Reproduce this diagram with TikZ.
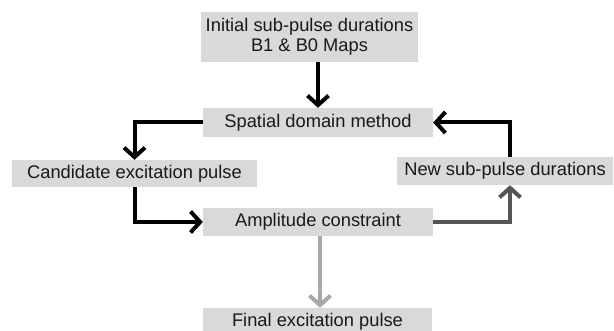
\documentclass[tikz,border=0pt]{standalone}
\usepackage{fontspec}
\setmainfont{Liberation Sans}
\usetikzlibrary{arrows.meta}
\definecolor{boxgray}{RGB}{217,217,217}
\definecolor{darkarrow}{RGB}{85,85,85}
\definecolor{lightarrow}{RGB}{168,168,168}
\definecolor{textdark}{RGB}{25,25,25}
\tikzset{
  stepbox/.style={fill=boxgray, draw=none, inner sep=0pt, align=center,
    text=textdark, font=\fontsize{18.3}{20.5}\selectfont},
  flow/.style={line width=4pt, -{Straight Barb[length=9.5pt,width=21pt,line width=4pt]}},
}
\begin{document}
\begin{tikzpicture}[x=1pt,y=-1pt]
  \clip (0,0) rectangle (614,331);
  \fill[white] (0,0) rectangle (614,331);

  \node[stepbox, minimum width=217pt, minimum height=50pt] (init) at (309.5,37)
    {Initial sub-pulse durations\\B1 \& B0 Maps};
  \node[stepbox, minimum width=230pt, minimum height=29pt] (spatial) at (318,122.5)
    {Spatial domain method};
  \node[stepbox, minimum width=245pt, minimum height=27pt] (cand) at (134.5,173.5)
    {Candidate excitation pulse};
  \node[stepbox, minimum width=230pt, minimum height=28pt] (amp) at (318,222)
    {Amplitude constraint};
  \node[stepbox, minimum width=216pt, minimum height=28pt] (new) at (505,171)
    {New sub-pulse durations};
  \node[stepbox, minimum width=229pt, minimum height=28pt] (final) at (317.5,322)
    {Final excitation pulse};

  \coordinate (newin) at ([xshift=5pt]new.south);
  \coordinate (newout) at ([xshift=5pt]new.north);

  \draw[flow] (init.south -| spatial.north) -- (spatial.north);
  \draw[flow] (spatial.west) -| (cand.north);
  \draw[flow] (cand.south) |- (amp.west);
  \draw[flow, darkarrow] (amp.east) -| (newin);
  \draw[flow] (newout) |- (spatial.east);
  \draw[flow, lightarrow] ([xshift=2pt]amp.south) -- ([xshift=2.5pt]final.north);
\end{tikzpicture}
\end{document}
